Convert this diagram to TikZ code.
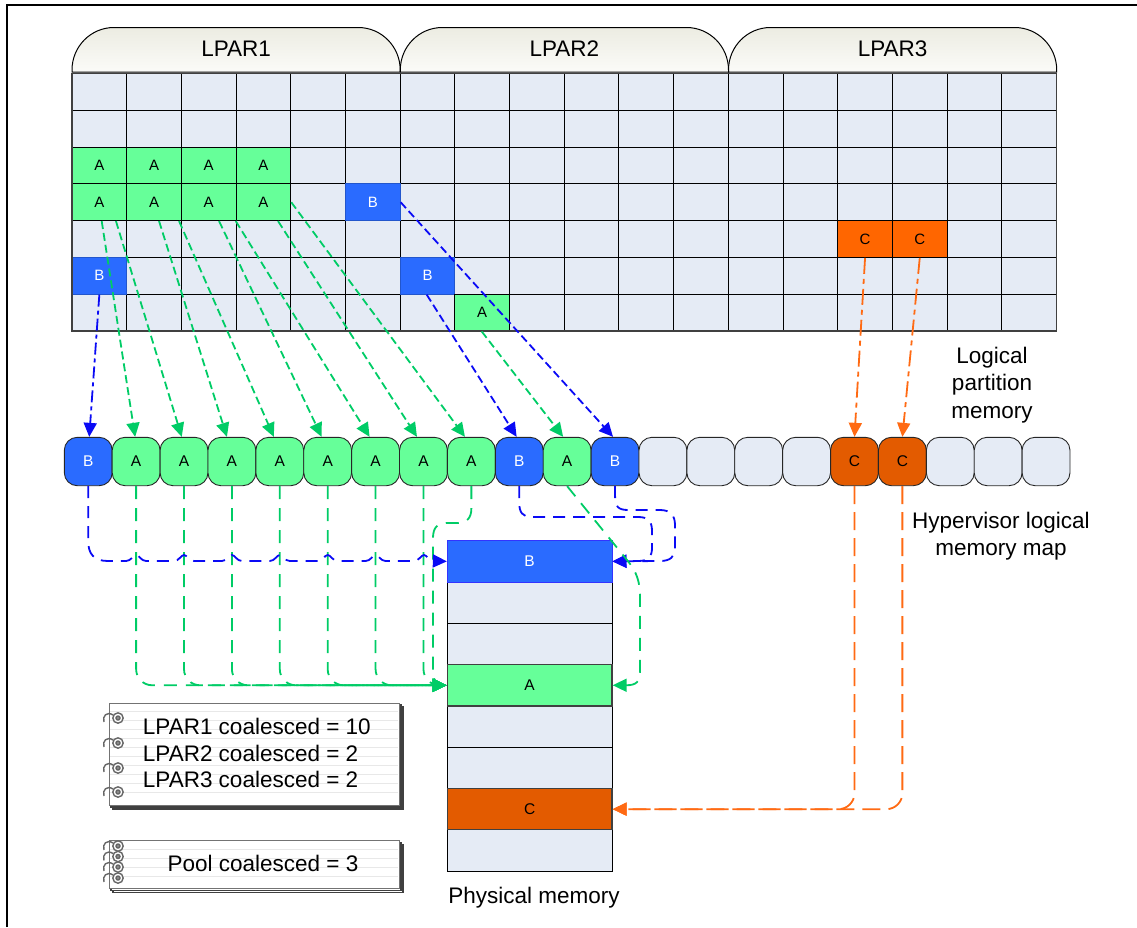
\documentclass[tikz,border=0pt]{standalone}
\usepackage{fontspec}
\setmainfont{Liberation Sans}
\usetikzlibrary{arrows.meta,calc}
\definecolor{cellbg}{HTML}{E5EBF5}
\definecolor{gA}{HTML}{66FF99}
\definecolor{bB}{HTML}{2A6BFF}
\definecolor{oC}{HTML}{FF6600}
\definecolor{oD}{HTML}{E35B00}
\definecolor{lg}{HTML}{00CC66}
\definecolor{lb}{HTML}{0A0AF5}
\definecolor{lo}{HTML}{FF6A13}
\definecolor{tabtop}{HTML}{ECECE2}
\definecolor{tabbot}{HTML}{FBFBF8}
\begin{document}
\begin{tikzpicture}[x=1pt,y=-1pt,
  cell/.style={draw=black,line width=0.9pt,fill=cellbg,minimum width=54.694pt,minimum height=36.8pt,inner sep=0pt,font=\fontsize{15}{15}\selectfont},
  cellA/.style={cell,fill=gA},
  cellB/.style={cell,fill=bB,draw=bB!80!black,text=white},
  cellC/.style={cell,fill=oC},
  hbox/.style={draw=black!85,line width=0.9pt,rounded corners=13pt,minimum width=47.89pt,minimum height=48.4pt,inner sep=0pt,font=\fontsize{15.5}{15.5}\selectfont},
  hA/.style={hbox,fill=gA},
  hB/.style={hbox,fill=bB,text=white},
  hC/.style={hbox,fill=oD},
  hE/.style={hbox,fill=cellbg},
  pcell/.style={draw=black,line width=0.9pt,fill=cellbg,minimum width=164.7pt,minimum height=41.3pt,inner sep=0pt,font=\fontsize{15.5}{15.5}\selectfont},
  lbl/.style={font=\fontsize{22.5}{27.5}\selectfont,align=center,inner sep=0pt},
  tabshape/.style={draw=black,line width=1pt,top color=tabtop,bottom color=tabbot},
  conn/.style={line width=1.8pt,-{Triangle[length=14pt,width=13pt]}},
  gua/.style={conn,draw=lg,dash pattern=on 8pt off 4pt},
  bua/.style={conn,draw=lb,dash pattern=on 12pt off 4pt on 4pt off 4pt},
  bub/.style={conn,draw=lb,dash pattern=on 8pt off 4pt},
  oua/.style={conn,draw=lo,dash pattern=on 16pt off 5pt on 5pt off 5pt},
  gla/.style={conn,draw=lg,dash pattern=on 13pt off 9pt},
  glp/.style={line width=1.8pt,draw=lg,dash pattern=on 13pt off 9pt},
  bla/.style={conn,draw=lb,dash pattern=on 12pt off 8pt},
  ola/.style={conn,draw=lo,dash pattern=on 18pt off 8pt},
  ring/.style={draw=black!60,line width=1.4pt},
  rule/.style={draw=black!9,line width=0.8pt},
  page/.style={draw=black!75,line width=1.4pt,fill=white}
]
\useasboundingbox (0,0) rectangle (1137,927);
% frame
\draw[line width=1.2pt] (7,927) -- (7,5) -- (1137,5);

% tabs
\foreach \x/\t [count=\k] in {72/LPAR1,400.3/LPAR2,728.5/LPAR3}{
  \draw[tabshape] (\x,72) -- (\x,70) .. controls (\x,46.5) and ({\x+18.8},27.5) .. ({\x+42},27.5)
    -- ({\x+286.2},27.5) .. controls ({\x+309.4},27.5) and ({\x+328.2},46.5) .. ({\x+328.2},70)
    -- ({\x+328.2},72) -- cycle;
  \node[lbl] (tab\k) at ({\x+164.1},48.5) {\t};
}

% grid
\foreach \c in {0,...,17}{
  \foreach \r in {0,...,6}{
    \node[cell] (g\c-\r) at ({72+(\c+0.5)*54.694},{73.4+(\r+0.5)*36.8}) {};
  }
}
\node[cellA] (A20) at (g0-2) {A};
\node[cellA] (A21) at (g1-2) {A};
\node[cellA] (A22) at (g2-2) {A};
\node[cellA] (A23) at (g3-2) {A};
\node[cellA] (A30) at (g0-3) {A};
\node[cellA] (A31) at (g1-3) {A};
\node[cellA] (A32) at (g2-3) {A};
\node[cellA] (A33) at (g3-3) {A};
\node[cellB] (B53) at (g5-3) {B};
\node[cellB] (B05) at (g0-5) {B};
\node[cellB] (B65) at (g6-5) {B};
\node[cellA] (A76) at (g7-6) {A};
\node[cellC] (C144) at (g14-4) {C};
\node[cellC] (C154) at (g15-4) {C};
\draw[black!75,line width=1.5pt] (72,73.4) rectangle (1056.5,331);

% hypervisor logical memory map
\foreach \s/\t [count=\i from 0] in {hB/B,hA/A,hA/A,hA/A,hA/A,hA/A,hA/A,hA/A,hA/A,hB/B,hA/A,hB/B,hE/{},hE/{},hE/{},hE/{},hC/C,hC/C,hE/{},hE/{},hE/{}}{
  \node[\s] (h\i) at ({64.3+(\i+0.5)*47.89},461.5) {\t};
}

% physical memory
\foreach \k in {0,...,7}{
  \node[pcell] (p\k) at (529.65,{540.7+(\k+0.5)*41.3}) {};
}
\node[pcell,fill=bB,draw=blue!80,text=white] (pb) at (p0) {B};
\node[pcell,fill=gA,draw=black!75,line width=1.3pt] (pa) at (p3) {A};
\node[pcell,fill=oD,draw=black!75,line width=1.3pt] (pc) at (p6) {C};

% labels
\node[lbl] (lpm) at (992,385) {Logical\\partition\\memory};
\node[lbl] (hlm) at (1001,536) {Hypervisor logical\\memory map};
\node[lbl] (phm) at (534,898) {Physical memory};

% upper connectors
\draw[bua] (B05.south) -- ([xshift=1pt]h0.north);
\draw[gua] ([xshift=2.35pt]A30.south) -- ([xshift=-1pt]h1.north);
\draw[gua] ([xshift=16.6pt]A30.south) -- ([xshift=-2.3pt]h2.north);
\draw[gua] ([xshift=5pt]A31.south) -- ([xshift=-5pt]h3.north);
\draw[gua] ([xshift=25pt]A31.south) -- ([xshift=-6pt]h4.north);
\draw[gua] ([xshift=10.3pt]A32.south) -- ([xshift=-6pt]h5.north);
\draw[gua] ([xshift=27pt]A32.south) -- ([xshift=-6pt]h6.north);
\draw[gua] ([xshift=14.6pt]A33.south) -- ([xshift=-6.5pt]h7.north);
\draw[gua] (A33.east) -- ([xshift=-6.4pt]h8.north);
\draw[bub] (B53.east) -- ([xshift=-2pt]h11.north);
\draw[bub] ([xshift=-0.8pt]B65.south) -- ([xshift=-2.6pt]h9.north);
\draw[gua] ([xshift=-0.5pt]A76.south) -- ([xshift=-4pt]h10.north);
\draw[oua] (C144.south) -- (h16.north);
\draw[oua] (C154.south) -- (h17.north);

% lower connectors
\draw[glp] (h8.south) -- (471.4,508) .. controls (471.4,518) and (467,523) .. (457,523)
  -- (447,523) .. controls (437,523) and (433,528) .. (433,538) -- (433,672)
  .. controls (433,681) and (436,685.25) .. (447.3,685.25);
\foreach \i in {1,...,7}{
  \draw[gla,rounded corners=16pt] (h\i.south) |- (pa.west);
}
\draw[bla] (h0.south) -- (88.2,541) .. controls (88.2,554) and (94,561) .. (108,561)
  \foreach \xc in {136.1,184.0,231.9,279.8,327.7,375.6,424}{
    -- ({\xc-10},561) .. controls ({\xc-5},561) and ({\xc-3},555) .. (\xc,555)
    .. controls ({\xc+3},555) and ({\xc+5},561) .. ({\xc+10},561)
  } -- (pb.west);
\draw[bla] (h9.south) -- (519.3,503) .. controls (519.3,512) and (522,517) .. (532,517)
  -- (638,517) .. controls (648,517) and (652,521) .. (652,531) -- (652,548)
  .. controls (652,557) and (648,561) .. (638,561) -- (pb.east);
\draw[bla] (h11.south) -- (615.1,498) .. controls (615.1,506) and (618,510) .. (628,510)
  -- (660,510) .. controls (670,510) and (675,515) .. (675,525) -- (675,548)
  .. controls (675,557) and (670,561) .. (660,561) -- (pb.east);
\draw[gla] (h10.south) -- (627,560) .. controls (637,572) and (640,582) .. (640,597)
  -- (640,672) .. controls (640,682) and (636,685.25) .. (626,685.25) -- (pa.east);
\draw[ola,rounded corners=16pt] (h16.south) |- (pc.east);
\draw[ola,rounded corners=16pt] (h17.south) |- (pc.east);

% notebook 1
\draw[page] (113,707) rectangle (403,809);
\draw[page] (111,705) rectangle (401,807);
\draw[page,draw=black!55,line width=1pt] (109,703) rectangle (399,805);
\foreach \ly in {711,720,...,800}{\draw[rule] (110,\ly) -- (398,\ly);}
\foreach \ry in {718,743,768,792}{
  \draw[ring] (113,{\ry-3}) .. controls (107,{\ry-7}) and (102,{\ry-2}) .. (104,{\ry+4});
  \draw[ring,fill=white] (118,\ry) circle[radius=5.2];
  \draw[ring,fill=black!45] (118,\ry) circle[radius=2];
}
\node[lbl,font=\fontsize{22.5}{26.5}\selectfont,align=left,anchor=west] (nb1) at (142.7,753) {LPAR1 coalesced = 10\\LPAR2 coalesced = 2\\LPAR3 coalesced = 2};

% notebook 2
\draw[page] (113,844.7) rectangle (403,892.3);
\draw[page] (111,842.7) rectangle (401,890.3);
\draw[page,draw=black!55,line width=1pt] (109,840.7) rectangle (399,888.3);
\foreach \ly in {849,858,...,884}{\draw[rule] (110,\ly) -- (398,\ly);}
\foreach \ry in {846,856.5,867,878}{
  \draw[ring] (113,{\ry-3}) .. controls (107,{\ry-7}) and (102,{\ry-2}) .. (104,{\ry+4});
  \draw[ring,fill=white] (118,\ry) circle[radius=5.2];
  \draw[ring,fill=black!45] (118,\ry) circle[radius=2];
}
\node[lbl] (nb2) at (263,863) {Pool coalesced = 3};
\end{tikzpicture}
\end{document}
